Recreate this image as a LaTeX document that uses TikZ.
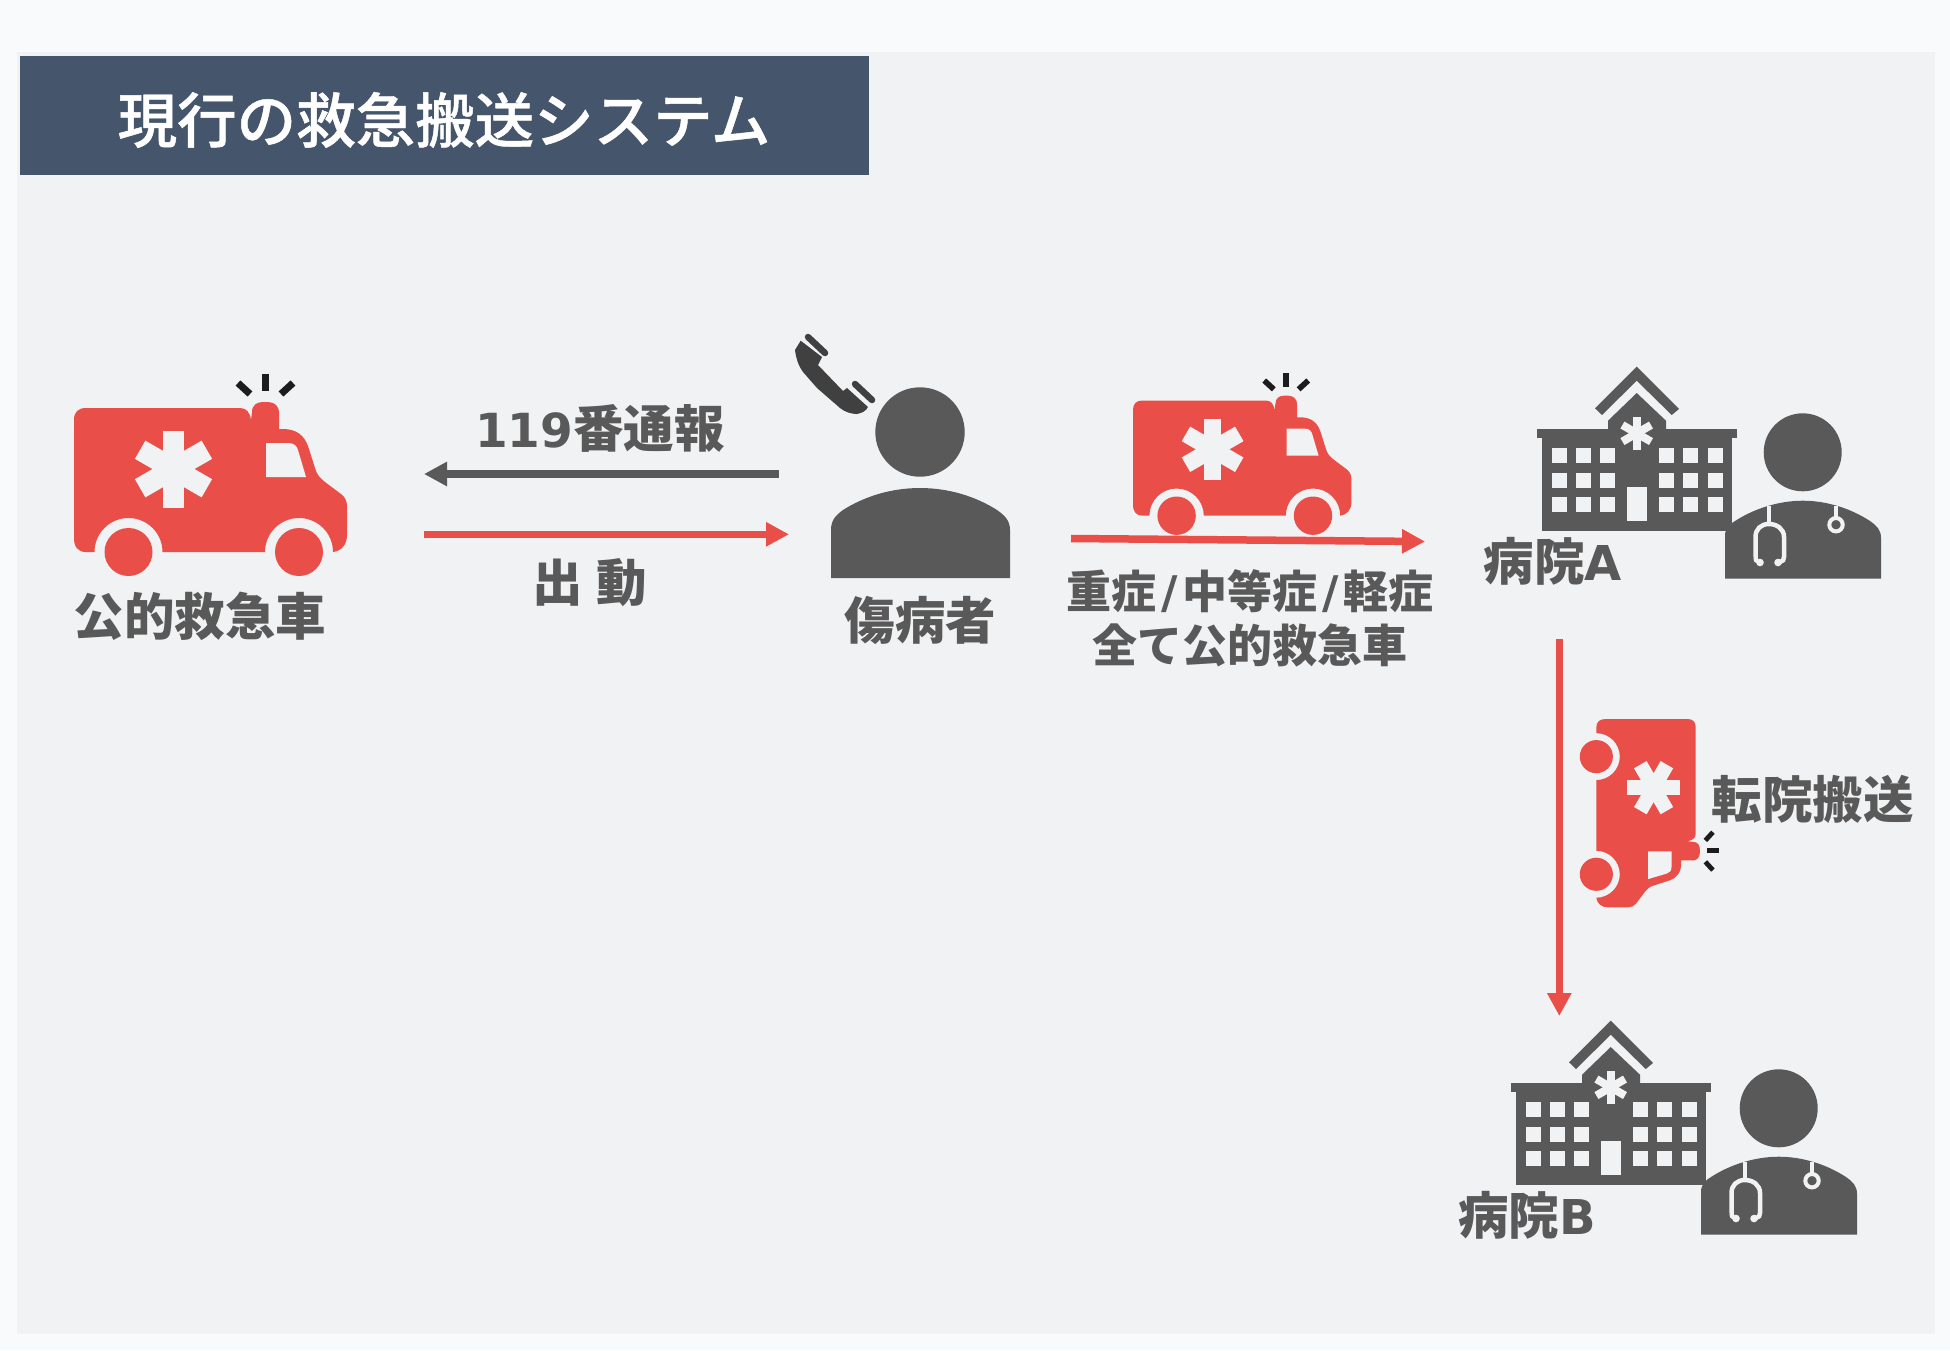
\documentclass[tikz,border=0pt]{standalone}
\usepackage{fontspec}
\usetikzlibrary{arrows.meta}
\newfontfamily\cjk{Noto Sans CJK JP}
\newfontfamily\cjkm[FakeBold=0.8]{Noto Sans CJK JP Medium}
\newfontfamily\latn{DejaVu Sans}
\definecolor{outerbg}{HTML}{F9FAFB}
\definecolor{panel}{HTML}{F1F2F4}
\definecolor{titlebg}{HTML}{45556B}
\definecolor{redc}{HTML}{E94F48}
\definecolor{greyc}{HTML}{595959}
\definecolor{phonec}{HTML}{404040}
\definecolor{rayc}{HTML}{1C1C1C}
\newcommand\StarShape[4]{%
  \foreach \aa in {0,60,120}{%
    \fill[panel,rotate around={\aa:(#1,#2)}] ({#1-#4/2},{#2-#3/2}) rectangle ({#1+#4/2},{#2+#3/2});}}
\newcommand\AmbShape[7]{% a b c d tx ty raywidth
  \begin{scope}
    \pgftransformcm{#1}{#2}{#3}{#4}{\pgfpoint{#5pt}{#6pt}}
    \fill[redc] (74,420) .. controls (74,412) and (78,408) .. (86,408) -- (240,408)
      .. controls (246,408) and (250,412) .. (251,420)
      -- (252,412) .. controls (252,405) and (257,402) .. (263,402) -- (268,402)
      .. controls (275,402) and (279,407) .. (279,412) -- (279,429) -- (283,429)
      .. controls (296,429) and (304,435) .. (308,446) -- (315,468)
      .. controls (317,475) and (320,478) .. (325,482) -- (341,494)
      .. controls (345,497) and (347,501) .. (347,506) -- (347,535)
      .. controls (347,545) and (341,551) .. (333,552)
      arc[start angle=0,end angle=-180,radius=34] -- (162.5,552)
      arc[start angle=0,end angle=-180,radius=34] -- (86,552)
      .. controls (78,552) and (74,547) .. (74,538) -- cycle;
    \fill[redc] (128.5,552) circle[radius=24];
    \fill[redc] (299,552) circle[radius=24];
    \fill[panel] (266,443) -- (288,443) .. controls (294,443) and (297,446) .. (298,450) -- (306,477) -- (266,477) -- cycle;
    \StarShape{173.5}{469}{77}{21}
    \draw[rayc,line width=#7pt] (265,374) -- (265,391);
    \draw[rayc,line width=#7pt] (238,383) -- (250,394);
    \draw[rayc,line width=#7pt] (293,383) -- (281,394);
  \end{scope}}
\newcommand\BuildShape[2]{%
  \begin{scope}[shift={(#1,#2)}]
    \fill[greyc] (1542.3,438) rectangle (1732.3,531);
    \fill[greyc] (1537.3,429) rectangle (1737.3,438);
    \fill[greyc] (1608,430) -- (1608,420.7) -- (1636.7,393) -- (1666,420.7) -- (1666,430) -- cycle;
    \fill[greyc] (1636.7,366.7) -- (1679,409) -- (1671.7,415) -- (1636.7,380.7) -- (1602,415) -- (1595,408.3) -- cycle;
    \foreach \wx in {1551.7,1576,1600.3,1659,1683.3,1707.7}{
      \foreach \wy in {448.3,472.7,497}{
        \fill[panel] (\wx,\wy) rectangle ({\wx+15},{\wy+15});}}
    \fill[panel] (1627.3,487.3) rectangle (1647,521.3);
    \StarShape{1636.7}{433.3}{33}{8}
  \end{scope}}
\newcommand\DocShape[2]{%
  \begin{scope}[shift={(#1,#2)}]
    \fill[greyc] (1802.7,452.3) circle[radius=39];
    \fill[greyc] (1725,578.7) -- (1725,536) .. controls (1725,528) and (1730,524) .. (1735,521)
      .. controls (1755,508) and (1780,500.7) .. (1802.7,500.7)
      .. controls (1826,500.7) and (1850,508) .. (1870,521)
      .. controls (1877,526) and (1881,530) .. (1881,538) -- (1881,578.7) -- cycle;
    \draw[panel,line width=4.5pt] (1769,506) -- (1769,524);
    \draw[panel,line width=4.5pt] (1755.5,557) -- (1755.5,537) .. controls (1755.5,529) and (1761,524) .. (1769,524)
      .. controls (1777,524) and (1784,529) .. (1784,537) -- (1784,557) .. controls (1784,560) and (1783,561) .. (1780,562);
    \draw[panel,line width=4.5pt] (1755.5,557) .. controls (1755.5,560) and (1756,561) .. (1759,562);
    \fill[panel] (1760,562.5) circle[radius=3.8];
    \fill[panel] (1778,562.5) circle[radius=3.8];
    \draw[panel,line width=4pt] (1836,506) -- (1836,518);
    \draw[panel,line width=4pt] (1836,524.7) circle[radius=6.7];
  \end{scope}}
\tikzset{
  lbl/.style={font=\cjk\bfseries\fontsize{50.5}{50}\selectfont,text=greyc,inner sep=0pt,align=center},
  lblsmall/.style={font=\cjk\bfseries\fontsize{45}{52}\selectfont,text=greyc,inner sep=0pt,align=center},
  ttl/.style={font=\cjkm\fontsize{59.5}{59}\selectfont,text=white,inner sep=0pt},
  arr/.style={line width=7.5pt,-{Triangle[length=23pt,width=23pt]}},
}
\begin{document}
\begin{tikzpicture}[x=1pt,y=1pt,yscale=-1]
  \fill[outerbg] (0,0) rectangle (1950,1350);
  \useasboundingbox (0,0) rectangle (1950,1350);
  \fill[panel] (17,52) rectangle (1935,1334);
  \node[fill=titlebg,minimum width=848.5pt,minimum height=119pt,inner sep=0pt,anchor=north west] (titlebox) at (20,56) {};
  \node[ttl] (title) at (444,120) {現行の救急搬送システム};

  \AmbShape{1}{0}{0}{1}{0}{0}{7}
  \AmbShape{0.8}{0}{0}{0.8}{1073.8}{74.1}{5.6}
  \AmbShape{0}{0.69}{-0.69}{0}{1977.2}{667.94}{4.8}

  % person
  \fill[greyc] (920,432) circle[radius=44.7];
  \fill[greyc] (831,578) -- (831,530) .. controls (831,520) and (836,515) .. (843,510)
    .. controls (865,496) and (892,488) .. (920,488)
    .. controls (948,488) and (975,496) .. (997,510)
    .. controls (1004,515) and (1010,520) .. (1010,530) -- (1010,578) -- cycle;
  % phone
  \fill[phonec] (800.7,340.7) -- (795,350) .. controls (796,358) and (798,365) .. (803,372)
    -- (817,388) -- (840,408) .. controls (845,412) and (851,414) .. (857,414)
    .. controls (862,413) and (866,411) .. (868,407) -- (847,388) -- (843,391) -- (818,365) -- (822,357) -- cycle;
  \draw[phonec,line width=6.5pt,line cap=round] (808,337) -- (825,353);
  \draw[phonec,line width=6.5pt,line cap=round] (855,384) -- (872,400);

  \BuildShape{0}{0}
  \DocShape{0}{0}
  \BuildShape{-26}{654}
  \DocShape{-24}{656}

  % labels
  \node[lbl] (kyu) at (200,616.5) {公的救急車};
  \node[lbl] (tsuho) at (600,428) {{\latn\bfseries\fontsize{47}{47}\selectfont 119}番通報};
  \node[lbl] (shutsu) at (590,583) {出\hspace{14pt}動};
  \node[lbl] (sho) at (920.5,620.5) {傷病者};
  \node[lblsmall] (juu) at (1250,591) {重症\kern5pt{\latn\bfseries /}\kern5pt 中等症\kern5pt{\latn\bfseries /}\kern5pt 軽症};
  \node[lblsmall] (zen) at (1250,645) {全て公的救急車};
  \node[lbl] (hospa) at (1553,561.5) {病院{\latn\bfseries\fontsize{48}{48}\selectfont A}};
  \node[lbl] (hospb) at (1527,1215.5) {病院{\latn\bfseries\fontsize{48}{48}\selectfont B}};
  \node[lbl] (ten) at (1812.5,799.3) {転院搬送};

  % connectors
  \coordinate (a1) at (778.5,474);
  \coordinate (a2) at (424,474);
  \coordinate (b1) at (424,534.3);
  \coordinate (b2) at (789,534.3);
  \coordinate (c1) at (1071,538.5);
  \coordinate (c2) at (1425,541.5);
  \coordinate (d1) at (1559.3,639);
  \coordinate (d2) at (1559.3,1016);
  \draw[arr,greyc] (a1) -- (a2);
  \draw[arr,redc] (b1) -- (b2);
  \draw[arr,redc] (c1) -- (c2);
  \draw[arr,redc] (d1) -- (d2);
\end{tikzpicture}
\end{document}
